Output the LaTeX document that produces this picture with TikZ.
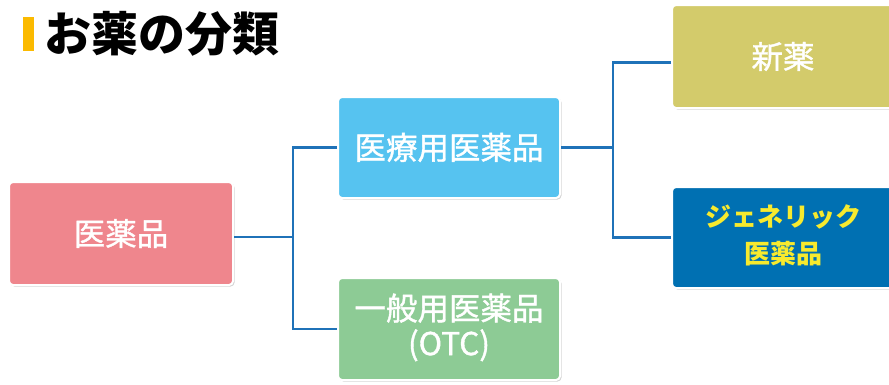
\documentclass[tikz,border=0pt]{standalone}
\usepackage{fontspec}
\setmainfont{Noto Sans CJK JP}
\newfontfamily\medfont[FakeBold=1.2]{Noto Sans CJK JP}
\usetikzlibrary{shadows}
\definecolor{cpink}{HTML}{EF868D}
\definecolor{cblue}{HTML}{56C3F0}
\definecolor{cgreen}{HTML}{8DCB95}
\definecolor{colive}{HTML}{D3CB6B}
\definecolor{cdark}{HTML}{0070B2}
\definecolor{cyell}{HTML}{F7EA2E}
\definecolor{cline}{HTML}{1F72B8}
\definecolor{cbar}{HTML}{FBBA00}
\tikzset{
  box/.style={draw=white, line width=2pt, rounded corners=4pt, text=white, align=center,
    font=\medfont\fontsize{31.5}{31}\selectfont, inner sep=0pt,
    drop shadow={opacity=0.35, shadow xshift=1.5pt, shadow yshift=-1.5pt}},
  conn/.style={draw=cline, line width=2.6pt}
}
\begin{document}
\begin{tikzpicture}[x=1pt,y=-1pt]
\clip (0,0) rectangle (889,384);
\fill[white] (0,0) rectangle (889,384);
% title
\fill[cbar] (23,17) rectangle (34,51);
\node[anchor=west, inner sep=0pt, font=\bfseries\fontsize{47}{47}\selectfont] (title) at (44,34) {お薬の分類};
% boxes
\node[box, fill=cpink, minimum width=224pt, minimum height=103pt] (yak) at (121,233.5) {医薬品};
\node[box, fill=cblue, minimum width=222pt, minimum height=101pt] (iryo) at (449,147.5) {医療用医薬品};
\node[box, fill=cgreen, minimum width=222pt, minimum height=102pt] (ippan) at (449,329) {\raisebox{-9pt}{\begin{tabular}{@{}c@{}}一般用医薬品\\(OTC)\end{tabular}}};
\node[box, fill=colive, minimum width=222pt, minimum height=103pt] (shin) at (783,56.5) {新薬};
\node[box, fill=cdark, text=cyell, minimum width=222pt, minimum height=101pt, font=\bfseries\fontsize{26}{37}\selectfont] (gen) at (783,237.5) {\raisebox{-2pt}{\begin{tabular}{@{}c@{}}ジェネリック\\医薬品\end{tabular}}};
% junctions
\coordinate (j1) at (293,0);
\coordinate (j2) at (613,0);
% connectors
\draw[conn] (yak.east |- 0,237) -- (j1 |- 0,237);
\draw[conn] (iryo.west) -- (iryo.west -| j1) -- (ippan.west -| j1) -- (ippan.west);
\draw[conn] (iryo.east) -- (iryo.east -| j2);
\draw[conn] ([yshift=-6pt]shin.west) -- ([yshift=-6pt]shin.west -| j2) -- (gen.west -| j2) -- (gen.west);
\end{tikzpicture}
\end{document}
